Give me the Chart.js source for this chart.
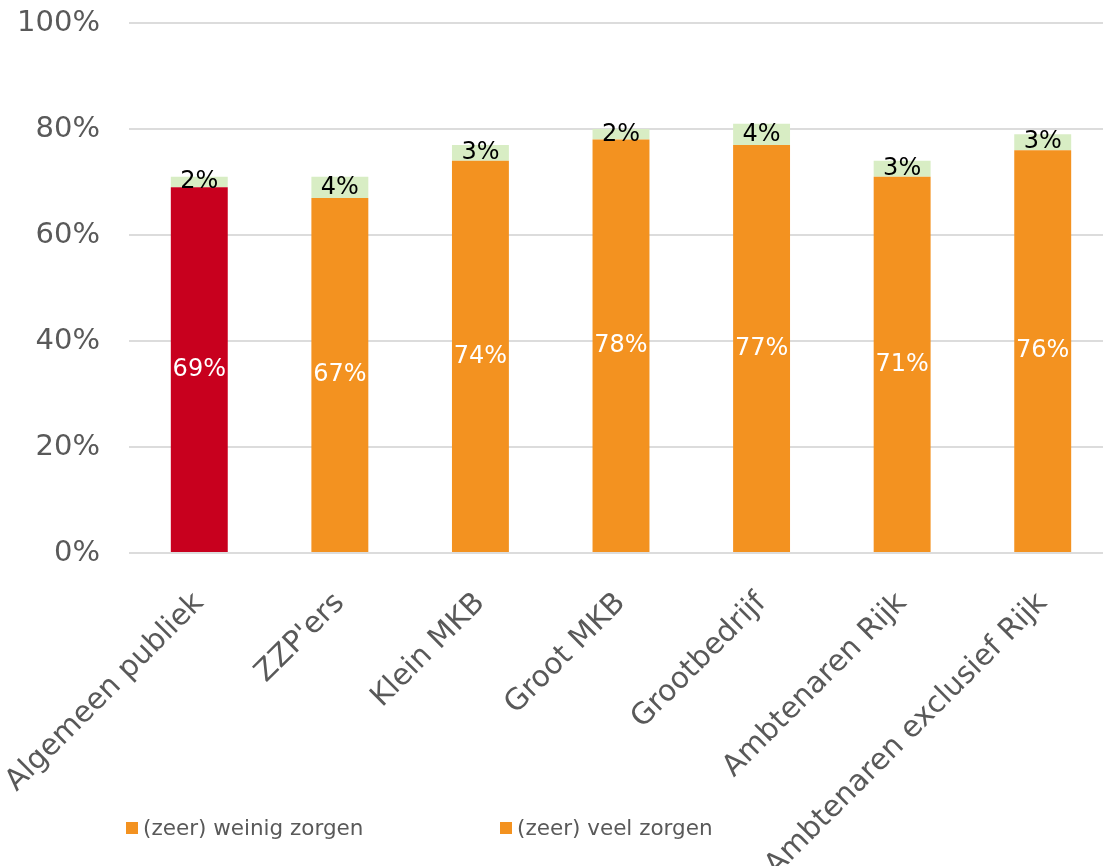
<!DOCTYPE html>
<html lang="nl">
<head>
<meta charset="utf-8">
<title>Zorgen per groep</title>
<script src="https://cdn.jsdelivr.net/npm/chart.js@4/dist/chart.umd.min.js"></script>
<style>
  html, body { margin: 0; padding: 0; overflow: hidden; background: #fff; }
  #wrap { position: relative; width: 1113px; height: 866px; }
</style>
</head>
<body>
<div id="wrap"><canvas id="chart"></canvas></div>
<script>
// Groepen en percentages
const categories = ["Algemeen publiek", "ZZP'ers", "Klein MKB", "Groot MKB", "Grootbedrijf", "Ambtenaren Rijk", "Ambtenaren exclusief Rijk"];
const weinigZorgen = [69, 67, 74, 78, 77, 71, 76];
const veelZorgen = [2, 4, 3, 2, 4, 3, 3];
const yTicks = [0, 20, 40, 60, 80, 100];

const seriesNames = ["(zeer) weinig zorgen", "(zeer) veel zorgen"];

const RED = "#c8001e";
const ORANGE = "#f39220";
const GREEN = "#d8edc4";
const GREY = "#595959";
const FONT = "'DejaVu Sans', Verdana, sans-serif";

const lowerColors = categories.map((c, i) => (i === 0 ? RED : ORANGE));

// Percentages in het midden van elk segment
const valueLabels = {
  id: "valueLabels",
  afterDatasetsDraw(chart) {
    const ctx = chart.ctx;
    ctx.save();
    ctx.font = "24px " + FONT;
    ctx.textAlign = "center";
    ctx.textBaseline = "middle";
    chart.data.datasets.forEach((ds, di) => {
      const meta = chart.getDatasetMeta(di);
      ctx.fillStyle = di === 0 ? "#ffffff" : "#000000";
      meta.data.forEach((bar, i) => {
        const y = (bar.y + bar.base) / 2;
        ctx.fillText(ds.data[i] + "%", bar.x, y);
      });
    });
    ctx.restore();
  },
};

// Legenda onderaan, over de as-labels heen
const bottomLegend = {
  id: "bottomLegend",
  afterDraw(chart, args, opts) {
    const ctx = chart.ctx;
    ctx.save();
    ctx.font = "21.5px " + FONT;
    ctx.textBaseline = "middle";
    ctx.textAlign = "left";
    chart.data.datasets.forEach((ds, i) => {
      const x = opts.xs[i];
      ctx.fillStyle = ORANGE;
      ctx.fillRect(x, opts.y - 6, 12, 12);
      ctx.fillStyle = GREY;
      ctx.fillText(ds.label, x + 17, opts.y + 1);
    });
    ctx.restore();
  },
};

new Chart(document.getElementById("chart"), {
  type: "bar",
  data: {
    labels: categories,
    datasets: [
      {
        label: seriesNames[0],
        data: weinigZorgen,
        backgroundColor: lowerColors,
        categoryPercentage: 1,
        barPercentage: 0.405,
      },
      {
        label: seriesNames[1],
        data: veelZorgen,
        backgroundColor: GREEN,
        categoryPercentage: 1,
        barPercentage: 0.405,
      },
    ],
  },
  plugins: [valueLabels, bottomLegend],
  options: {
    responsive: true,
    maintainAspectRatio: false,
    animation: false,
    layout: { padding: { top: 23, left: 0, right: 0, bottom: 0 } },
    plugins: {
      legend: { display: false },
      tooltip: { enabled: false },
      bottomLegend: { xs: [126, 500], y: 828 },
    },
    scales: {
      x: {
        stacked: true,
        grid: { display: false },
        border: { display: false },
        ticks: {
          color: GREY,
          font: { family: FONT, size: 29.5 },
          minRotation: 45,
          maxRotation: 45,
          padding: 25,
        },
        afterFit(scale) {
          scale.height = 313;
          scale.paddingLeft = 0;
          scale.paddingRight = 0;
        },
      },
      y: {
        stacked: true,
        min: 0,
        max: 100,
        afterBuildTicks(scale) {
          scale.ticks = yTicks.map((v) => ({ value: v }));
        },
        grid: { color: "#dcdcdc", lineWidth: 2, drawTicks: false },
        border: { display: false },
        ticks: {
          color: GREY,
          font: { family: FONT, size: 29 },
          padding: 29,
          callback: (v) => v + "%",
        },
        afterFit(scale) {
          scale.width = 129;
          scale.paddingTop = 0;
          scale.paddingBottom = 0;
        },
      },
    },
  },
});
</script>
</body>
</html>
